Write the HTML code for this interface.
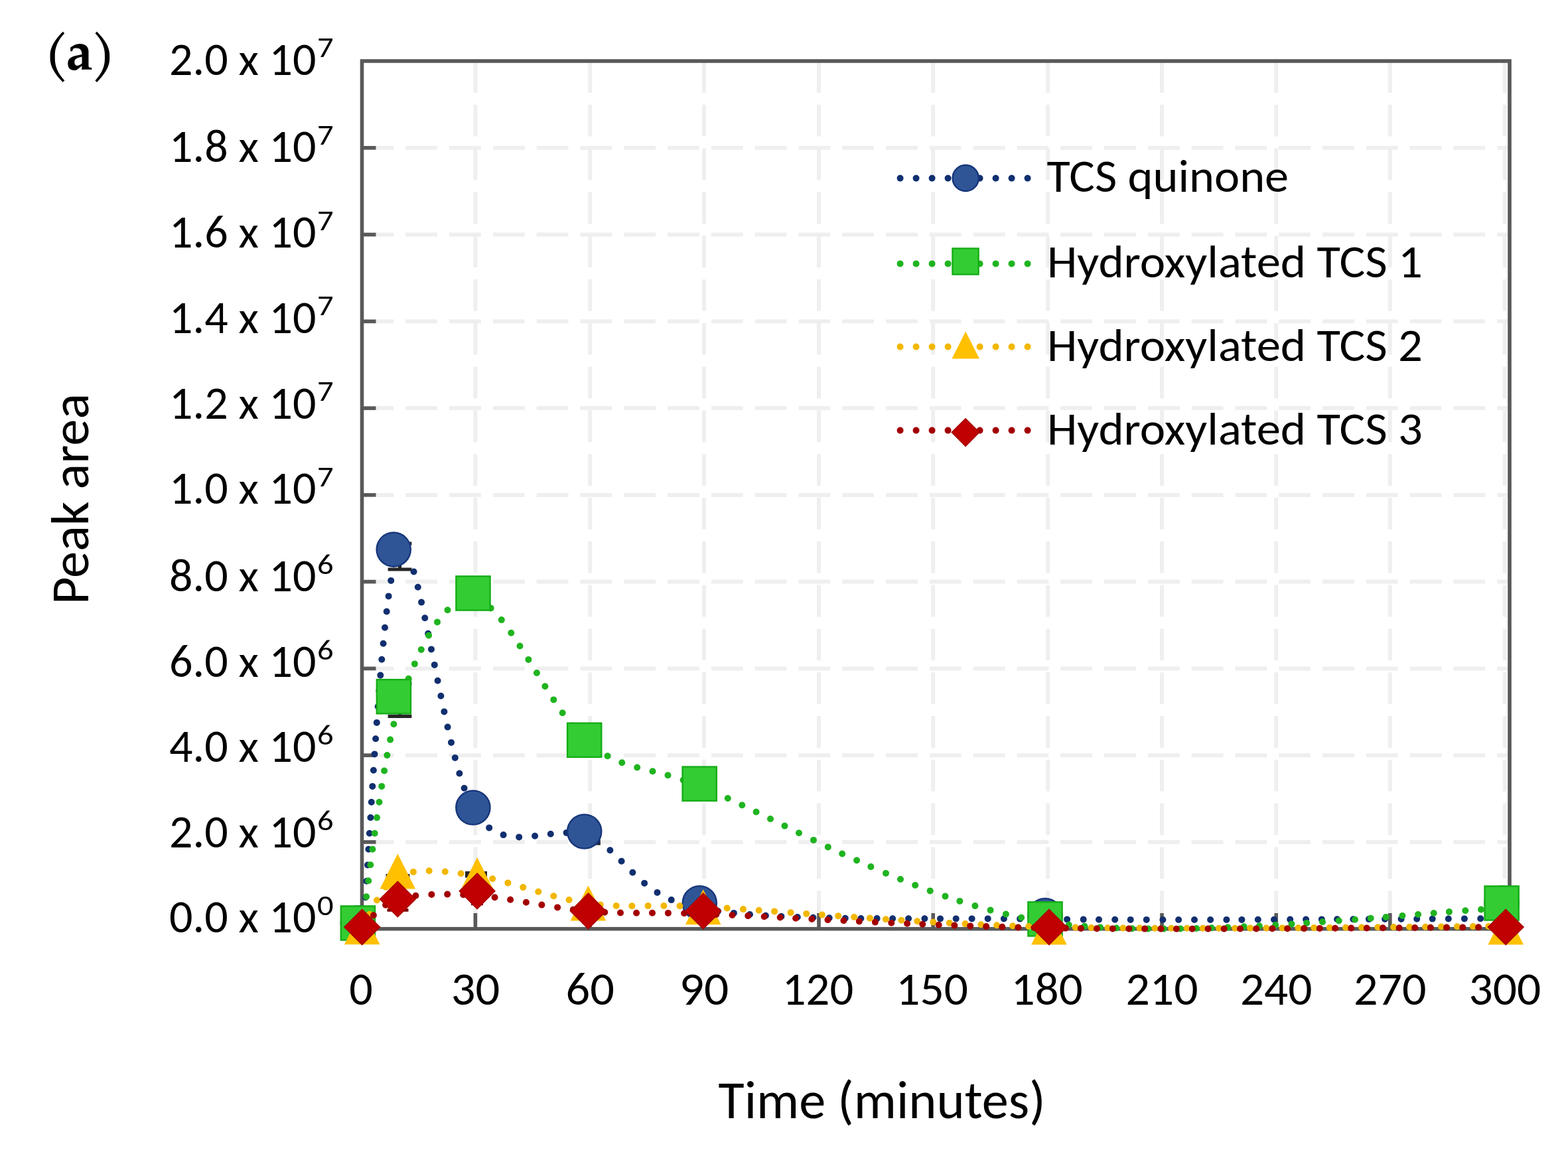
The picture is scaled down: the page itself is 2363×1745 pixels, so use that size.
<!DOCTYPE html><html><head><meta charset="utf-8"><title>Peak area vs time</title><style>html,body{margin:0;padding:0;background:#fff;overflow:hidden}svg{display:block}.t{font-family:Carlito,Calibri,"Liberation Sans",sans-serif;fill:#000}.s{font-family:"TeX Gyre Pagella","Palatino Linotype","Book Antiqua",Palatino,"Liberation Serif",serif;font-weight:bold;fill:#000}</style></head><body>
<svg width="2363" height="1745" viewBox="0 0 2363 1745">
<rect width="2363" height="1745" fill="#fff"/>
<g stroke="#efefef" fill="none">
<line x1="545.5" y1="1268.9" x2="2272.0" y2="1268.9" stroke-width="6" stroke-dasharray="47.8 18"/>
<line x1="545.5" y1="1138.2" x2="2272.0" y2="1138.2" stroke-width="6" stroke-dasharray="47.8 18"/>
<line x1="545.5" y1="1007.4" x2="2272.0" y2="1007.4" stroke-width="6" stroke-dasharray="47.8 18"/>
<line x1="545.5" y1="876.6" x2="2272.0" y2="876.6" stroke-width="6" stroke-dasharray="47.8 18"/>
<line x1="545.5" y1="745.9" x2="2272.0" y2="745.9" stroke-width="6" stroke-dasharray="47.8 18"/>
<line x1="545.5" y1="615.1" x2="2272.0" y2="615.1" stroke-width="6" stroke-dasharray="47.8 18"/>
<line x1="545.5" y1="484.3" x2="2272.0" y2="484.3" stroke-width="6" stroke-dasharray="47.8 18"/>
<line x1="545.5" y1="353.5" x2="2272.0" y2="353.5" stroke-width="6" stroke-dasharray="47.8 18"/>
<line x1="545.5" y1="222.8" x2="2272.0" y2="222.8" stroke-width="6" stroke-dasharray="47.8 18"/>
<line x1="716.4" y1="92.0" x2="716.4" y2="1396.7" stroke-width="6" stroke-dasharray="47.8 18"/>
<line x1="889.2" y1="92.0" x2="889.2" y2="1396.7" stroke-width="6" stroke-dasharray="47.8 18"/>
<line x1="1061.0" y1="92.0" x2="1061.0" y2="1396.7" stroke-width="6" stroke-dasharray="47.8 18"/>
<line x1="1234.0" y1="92.0" x2="1234.0" y2="1396.7" stroke-width="6" stroke-dasharray="47.8 18"/>
<line x1="1406.2" y1="92.0" x2="1406.2" y2="1396.7" stroke-width="6" stroke-dasharray="47.8 18"/>
<line x1="1579.2" y1="92.0" x2="1579.2" y2="1396.7" stroke-width="6" stroke-dasharray="47.8 18"/>
<line x1="1751.0" y1="92.0" x2="1751.0" y2="1396.7" stroke-width="6" stroke-dasharray="47.8 18"/>
<line x1="1923.2" y1="92.0" x2="1923.2" y2="1396.7" stroke-width="6" stroke-dasharray="47.8 18"/>
<line x1="2094.8" y1="92.0" x2="2094.8" y2="1396.7" stroke-width="6" stroke-dasharray="47.8 18"/>
<line x1="2267.7" y1="92.0" x2="2267.7" y2="1396.7" stroke-width="6" stroke-dasharray="47.8 18"/>
</g>
<g stroke="#595959" stroke-width="5.6" fill="none">
<rect x="545.5" y="92.0" width="1729.5" height="1307.7"/>
<line x1="545.5" y1="1268.9" x2="566.5" y2="1268.9"/>
<line x1="545.5" y1="1138.2" x2="566.5" y2="1138.2"/>
<line x1="545.5" y1="1007.4" x2="566.5" y2="1007.4"/>
<line x1="545.5" y1="876.6" x2="566.5" y2="876.6"/>
<line x1="545.5" y1="745.9" x2="566.5" y2="745.9"/>
<line x1="545.5" y1="615.1" x2="566.5" y2="615.1"/>
<line x1="545.5" y1="484.3" x2="566.5" y2="484.3"/>
<line x1="545.5" y1="353.5" x2="566.5" y2="353.5"/>
<line x1="545.5" y1="222.8" x2="566.5" y2="222.8"/>
<line x1="716.4" y1="1376" x2="716.4" y2="1399.7"/>
<line x1="889.2" y1="1376" x2="889.2" y2="1399.7"/>
<line x1="1061.0" y1="1376" x2="1061.0" y2="1399.7"/>
<line x1="1234.0" y1="1376" x2="1234.0" y2="1399.7"/>
<line x1="1406.2" y1="1376" x2="1406.2" y2="1399.7"/>
<line x1="1579.2" y1="1376" x2="1579.2" y2="1399.7"/>
<line x1="1751.0" y1="1376" x2="1751.0" y2="1399.7"/>
<line x1="1923.2" y1="1376" x2="1923.2" y2="1399.7"/>
<line x1="2094.8" y1="1376" x2="2094.8" y2="1399.7"/>
</g>
<g stroke="#262626" stroke-width="5.2" fill="none"><line x1="602.5" y1="819" x2="602.5" y2="858"/><line x1="584.6" y1="819" x2="620.4" y2="819"/><line x1="584.6" y1="858" x2="620.4" y2="858"/><line x1="887" y1="1250" x2="887" y2="1271"/><line x1="869.1" y1="1250" x2="904.9" y2="1250"/><line x1="869.1" y1="1271" x2="904.9" y2="1271"/><line x1="602.5" y1="1030" x2="602.5" y2="1079.3"/><line x1="584.6" y1="1030" x2="620.4" y2="1030"/><line x1="584.6" y1="1079.3" x2="620.4" y2="1079.3"/><line x1="599.5" y1="1319.5" x2="599.5" y2="1332"/><line x1="581.6" y1="1319.5" x2="617.4" y2="1319.5"/><line x1="581.6" y1="1332" x2="617.4" y2="1332"/><line x1="717.5" y1="1320" x2="717.5" y2="1315.5"/><line x1="701.0" y1="1320" x2="734.0" y2="1320"/><line x1="701.0" y1="1315.5" x2="734.0" y2="1315.5"/></g>
<g stroke="#7a0000" stroke-width="4.5" fill="none"><line x1="599.5" y1="1336" x2="599.5" y2="1371.5"/><line x1="583.5" y1="1336" x2="615.5" y2="1336"/><line x1="583.5" y1="1371.5" x2="615.5" y2="1371.5"/><line x1="719" y1="1330" x2="719" y2="1362"/><line x1="710.0" y1="1330" x2="728.0" y2="1330"/><line x1="710.0" y1="1362" x2="728.0" y2="1362"/></g>
<path d="M547.3,1400.0h0.01M549.2,1375.9h0.01M550.9,1352.3h0.01M552.5,1327.7h0.01M554.0,1303.5h0.01M555.4,1279.7h0.01M556.9,1255.7h0.01M558.4,1232.0h0.01M559.8,1208.7h0.01M561.3,1184.9h0.01M562.9,1160.8h0.01M564.5,1136.4h0.01M566.1,1113.3h0.01M567.8,1088.9h0.01M569.6,1064.7h0.01M571.4,1040.9h0.01M573.3,1017.6h0.01M575.3,993.8h0.01M577.6,969.7h0.01M580.0,945.8h0.01M582.7,921.5h0.01M585.6,898.4h0.01M589.2,874.9h0.01M623.6,861.5h0.01M629.8,884.8h0.01M635.1,907.6h0.01M640.3,931.2h0.01M645.2,954.7h0.01M650.0,978.4h0.01M654.8,1001.9h0.01M659.6,1025.7h0.01M664.4,1048.7h0.01M669.4,1072.4h0.01M674.6,1095.6h0.01M680.0,1118.9h0.01M685.8,1141.9h0.01M692.4,1165.5h0.01M699.6,1187.8h0.01M708.3,1209.8h0.01M720.5,1230.3h0.01M737.2,1247.4h0.01M758.6,1258.1h0.01M782.2,1261.4h0.01M806.1,1259.8h0.01M829.8,1256.7h0.01M853.6,1254.9h0.01M877.5,1257.5h0.01M899.9,1267.1h0.01M919.4,1281.3h0.01M936.6,1297.7h0.01M953.4,1314.8h0.01M971.1,1330.9h0.01M990.5,1344.9h0.01M1011.7,1356.1h0.01M1034.2,1364.1h0.01M1058.2,1369.5h0.01M1082.0,1373.1h0.01M1105.9,1375.9h0.01M1130.0,1378.0h0.01M1153.9,1379.7h0.01M1177.4,1380.9h0.01M1201.8,1382.0h0.01M1225.4,1382.7h0.01M1249.7,1383.3h0.01M1273.8,1383.7h0.01M1297.4,1384.0h0.01M1321.6,1384.1h0.01M1345.2,1384.3h0.01M1369.1,1384.3h0.01M1393.4,1384.3h0.01M1417.0,1384.4h0.01M1440.7,1384.4h0.01M1464.6,1384.4h0.01M1488.7,1384.4h0.01M1512.9,1384.5h0.01M1537.1,1384.6h0.01M1561.4,1384.9h0.01M1584.7,1385.1h0.01M1608.1,1385.4h0.01M1632.7,1385.6h0.01M1656.0,1385.7h0.01M1680.2,1385.8h0.01M1703.7,1385.9h0.01M1727.8,1385.9h0.01M1752.4,1386.0h0.01M1776.1,1386.0h0.01M1800.0,1386.0h0.01M1824.1,1386.0h0.01M1848.4,1385.9h0.01M1871.4,1385.9h0.01M1895.8,1385.8h0.01M1920.0,1385.7h0.01M1944.2,1385.6h0.01M1968.1,1385.5h0.01M1991.8,1385.4h0.01M2015.1,1385.3h0.01M2039.3,1385.2h0.01M2062.9,1385.1h0.01M2087.1,1385.0h0.01M2111.6,1384.9h0.01M2135.2,1384.7h0.01M2158.7,1384.6h0.01M2182.8,1384.5h0.01M2206.9,1384.4h0.01M2231.2,1384.3h0.01M2255.0,1384.2h0.01" fill="none" stroke="#112f6f" stroke-width="10" stroke-linecap="round"/>
<circle cx="539.4" cy="1391.0" r="25.6" fill="#2f5597" stroke="#17367a" stroke-width="2.4"/>
<circle cx="593.2" cy="828.1" r="25.6" fill="#2f5597" stroke="#17367a" stroke-width="2.4"/>
<circle cx="712.9" cy="1217.0" r="25.6" fill="#2f5597" stroke="#17367a" stroke-width="2.4"/>
<circle cx="880.7" cy="1253.0" r="25.6" fill="#2f5597" stroke="#17367a" stroke-width="2.4"/>
<circle cx="1054.3" cy="1360.7" r="25.6" fill="#2f5597" stroke="#17367a" stroke-width="2.4"/>
<circle cx="1575.0" cy="1379.5" r="25.6" fill="#2f5597" stroke="#17367a" stroke-width="2.4"/>
<circle cx="2263.1" cy="1361.0" r="25.6" fill="#2f5597" stroke="#17367a" stroke-width="2.4"/>
<path d="M548.9,1374.7h0.01M552.1,1351.3h0.01M555.2,1327.3h0.01M558.3,1303.3h0.01M561.4,1279.7h0.01M564.7,1255.8h0.01M568.0,1232.1h0.01M571.5,1208.8h0.01M575.2,1184.9h0.01M579.1,1161.5h0.01M583.4,1138.1h0.01M588.1,1114.6h0.01M593.4,1091.2h0.01M599.7,1067.8h0.01M607.3,1045.2h0.01M615.7,1022.8h0.01M624.9,1000.4h0.01M634.8,978.9h0.01M646.1,957.5h0.01M659.0,937.4h0.01M674.5,919.3h0.01M694.2,905.8h0.01M717.6,903.2h0.01M719.7,903.7h0.01M739.7,916.4h0.01M755.8,934.1h0.01M770.3,953.7h0.01M783.5,973.5h0.01M796.4,993.9h0.01M808.9,1014.0h0.01M821.4,1034.2h0.01M834.3,1054.4h0.01M847.7,1074.3h0.01M862.2,1093.6h0.01M878.2,1111.5h0.01M895.5,1126.1h0.01M915.6,1139.2h0.01M937.3,1149.3h0.01M960.2,1156.5h0.01M983.5,1162.3h0.01M1006.5,1168.3h0.01M1029.6,1175.5h0.01M1052.0,1183.7h0.01M1074.6,1193.0h0.01M1096.8,1203.0h0.01M1118.3,1213.2h0.01M1139.6,1223.5h0.01M1161.0,1234.0h0.01M1182.5,1244.6h0.01M1204.0,1255.2h0.01M1226.0,1265.9h0.01M1247.8,1276.4h0.01M1269.2,1286.5h0.01M1291.1,1296.5h0.01M1312.4,1306.1h0.01M1335.0,1315.9h0.01M1357.0,1325.0h0.01M1379.2,1333.9h0.01M1401.7,1342.4h0.01M1424.5,1350.6h0.01M1446.4,1357.9h0.01M1469.4,1365.1h0.01M1492.6,1371.6h0.01M1515.9,1377.6h0.01M1539.2,1382.8h0.01M1562.5,1387.2h0.01M1587.1,1391.0h0.01M1610.8,1393.7h0.01M1634.5,1395.8h0.01M1658.0,1397.4h0.01M1682.3,1398.5h0.01M1706.0,1399.2h0.01M1730.3,1399.5h0.01M1753.7,1399.6h0.01M1778.8,1399.4h0.01M1802.9,1398.9h0.01M1825.8,1398.3h0.01M1850.2,1397.4h0.01M1874.7,1396.3h0.01M1897.8,1395.2h0.01M1922.2,1393.9h0.01M1946.5,1392.4h0.01M1969.2,1390.9h0.01M1993.0,1389.3h0.01M2017.7,1387.5h0.01M2042.0,1385.7h0.01M2065.7,1383.8h0.01M2088.7,1381.9h0.01M2113.4,1379.9h0.01M2137.1,1378.0h0.01M2160.7,1376.0h0.01M2183.9,1374.1h0.01M2208.3,1372.3h0.01M2232.0,1370.6h0.01M2256.2,1369.2h0.01" fill="none" stroke="#20b420" stroke-width="10" stroke-linecap="round"/>
<rect x="513.8" y="1365.4" width="51.2" height="51.2" fill="#33cc33" stroke="#16ad16" stroke-width="2.4"/>
<rect x="567.8" y="1024.1" width="51.2" height="51.2" fill="#33cc33" stroke="#16ad16" stroke-width="2.4"/>
<rect x="687.4" y="868.4" width="51.2" height="51.2" fill="#33cc33" stroke="#16ad16" stroke-width="2.4"/>
<rect x="855.1" y="1089.7" width="51.2" height="51.2" fill="#33cc33" stroke="#16ad16" stroke-width="2.4"/>
<rect x="1028.6" y="1155.5" width="51.2" height="51.2" fill="#33cc33" stroke="#16ad16" stroke-width="2.4"/>
<rect x="1549.4" y="1359.3" width="51.2" height="51.2" fill="#33cc33" stroke="#16ad16" stroke-width="2.4"/>
<rect x="2237.5" y="1335.4" width="51.2" height="51.2" fill="#33cc33" stroke="#16ad16" stroke-width="2.4"/>
<path d="M546.3,1399.2h0.01M557.0,1377.7h0.01M568.0,1356.5h0.01M581.4,1336.7h0.01M599.4,1321.2h0.01M622.9,1313.9h0.01M646.7,1312.2h0.01M670.8,1313.5h0.01M694.6,1316.2h0.01M718.6,1319.6h0.01M742.2,1324.3h0.01M765.4,1330.4h0.01M788.3,1337.1h0.01M811.3,1343.8h0.01M834.3,1350.3h0.01M857.6,1356.0h0.01M881.1,1360.5h0.01M904.7,1363.4h0.01M928.7,1365.0h0.01M952.4,1365.3h0.01M976.6,1365.1h0.01M1000.4,1365.0h0.01M1024.5,1365.2h0.01M1048.2,1366.0h0.01M1071.8,1367.1h0.01M1095.7,1368.5h0.01M1120.0,1370.1h0.01M1143.7,1371.8h0.01M1167.1,1373.4h0.01M1191.6,1375.2h0.01M1215.3,1376.9h0.01M1238.9,1378.6h0.01M1263.2,1380.3h0.01M1287.2,1382.0h0.01M1310.9,1383.6h0.01M1334.9,1385.2h0.01M1358.4,1386.7h0.01M1382.3,1388.2h0.01M1406.4,1389.6h0.01M1430.8,1390.9h0.01M1454.5,1392.1h0.01M1478.3,1393.2h0.01M1502.2,1394.3h0.01M1526.2,1395.2h0.01M1550.3,1396.0h0.01M1574.5,1396.7h0.01M1597.0,1397.2h0.01M1620.8,1397.6h0.01M1644.6,1398.0h0.01M1669.4,1398.3h0.01M1692.5,1398.4h0.01M1717.5,1398.6h0.01M1740.5,1398.7h0.01M1765.1,1398.8h0.01M1788.8,1398.8h0.01M1812.8,1398.8h0.01M1836.9,1398.7h0.01M1861.2,1398.7h0.01M1884.1,1398.6h0.01M1908.4,1398.5h0.01M1932.5,1398.4h0.01M1956.5,1398.2h0.01M1980.3,1398.1h0.01M2003.8,1397.9h0.01M2028.1,1397.7h0.01M2052.0,1397.5h0.01M2076.4,1397.3h0.01M2100.2,1397.1h0.01M2124.2,1396.9h0.01M2148.2,1396.7h0.01M2172.0,1396.5h0.01M2196.1,1396.3h0.01M2219.9,1396.1h0.01M2243.4,1396.0h0.01M2267.5,1395.9h0.01" fill="none" stroke="#f2b700" stroke-width="10" stroke-linecap="round"/>
<path d="M545.7,1370.3 L572.5,1423.3 L518.9,1423.3 Z" fill="#ffc000"/>
<path d="M599.3,1286.5 L626.1,1339.5 L572.5,1339.5 Z" fill="#ffc000"/>
<path d="M719.1,1292.1 L745.9,1345.1 L692.3,1345.1 Z" fill="#ffc000"/>
<path d="M886.5,1334.4 L913.3,1387.4 L859.7,1387.4 Z" fill="#ffc000"/>
<path d="M1059.7,1340.2 L1086.5,1393.2 L1032.9,1393.2 Z" fill="#ffc000"/>
<path d="M1580.9,1370.5 L1607.7,1423.5 L1554.1,1423.5 Z" fill="#ffc000"/>
<path d="M2269.2,1370.5 L2296.0,1423.5 L2242.4,1423.5 Z" fill="#ffc000"/>
<path d="M546.7,1396.9h0.01M562.9,1379.2h0.01M581.1,1363.7h0.01M602.8,1354.1h0.01M626.4,1349.8h0.01M650.4,1347.9h0.01M674.2,1347.6h0.01M698.2,1348.3h0.01M721.6,1349.7h0.01M745.6,1352.2h0.01M769.1,1355.7h0.01M792.9,1359.7h0.01M816.4,1363.6h0.01M840.1,1367.4h0.01M863.8,1370.7h0.01M887.2,1373.2h0.01M911.3,1374.7h0.01M935.0,1375.5h0.01M959.1,1375.7h0.01M983.0,1375.7h0.01M1006.9,1375.9h0.01M1031.1,1376.3h0.01M1054.8,1377.0h0.01M1079.4,1377.9h0.01M1103.5,1379.0h0.01M1127.3,1380.1h0.01M1151.7,1381.3h0.01M1175.7,1382.5h0.01M1199.1,1383.7h0.01M1223.4,1384.9h0.01M1247.5,1386.1h0.01M1271.4,1387.3h0.01M1294.9,1388.4h0.01M1318.9,1389.6h0.01M1343.3,1390.7h0.01M1367.1,1391.7h0.01M1390.3,1392.7h0.01M1414.7,1393.7h0.01M1438.4,1394.6h0.01M1462.2,1395.4h0.01M1486.2,1396.1h0.01M1510.3,1396.8h0.01M1534.4,1397.5h0.01M1558.6,1398.0h0.01M1605.8,1398.8h0.01M1628.9,1399.0h0.01M1653.0,1399.2h0.01M1676.8,1399.4h0.01M1701.3,1399.5h0.01M1725.1,1399.6h0.01M1749.5,1399.6h0.01M1772.9,1399.7h0.01M1796.7,1399.7h0.01M1820.6,1399.6h0.01M1844.7,1399.6h0.01M1869.0,1399.5h0.01M1893.2,1399.4h0.01M1917.3,1399.3h0.01M1940.1,1399.2h0.01M1965.2,1399.1h0.01M1988.8,1398.9h0.01M2012.1,1398.8h0.01M2036.2,1398.6h0.01M2059.8,1398.5h0.01M2084.0,1398.3h0.01M2108.6,1398.2h0.01M2132.2,1398.0h0.01M2155.8,1397.8h0.01M2180.0,1397.6h0.01M2204.3,1397.5h0.01M2228.1,1397.3h0.01M2251.7,1397.2h0.01" fill="none" stroke="#a30000" stroke-width="10" stroke-linecap="round"/>
<path d="M545.7,1370.2 L572.5,1397.0 L545.7,1423.8 L518.9,1397.0 Z" fill="#c00000" stroke="#a80000" stroke-width="1.5" stroke-linejoin="miter"/>
<path d="M599.3,1328.2 L626.1,1355.0 L599.3,1381.8 L572.5,1355.0 Z" fill="#c00000" stroke="#a80000" stroke-width="1.5" stroke-linejoin="miter"/>
<path d="M719.1,1316.0 L745.9,1342.8 L719.1,1369.6 L692.3,1342.8 Z" fill="#c00000" stroke="#a80000" stroke-width="1.5" stroke-linejoin="miter"/>
<path d="M886.5,1346.1 L913.3,1372.9 L886.5,1399.7 L859.7,1372.9 Z" fill="#c00000" stroke="#a80000" stroke-width="1.5" stroke-linejoin="miter"/>
<path d="M1059.7,1346.1 L1086.5,1372.9 L1059.7,1399.7 L1032.9,1372.9 Z" fill="#c00000" stroke="#a80000" stroke-width="1.5" stroke-linejoin="miter"/>
<path d="M1581.0,1370.2 L1607.8,1397.0 L1581.0,1423.8 L1554.2,1397.0 Z" fill="#c00000" stroke="#a80000" stroke-width="1.5" stroke-linejoin="miter"/>
<path d="M2269.2,1370.2 L2296.0,1397.0 L2269.2,1423.8 L2242.4,1397.0 Z" fill="#c00000" stroke="#a80000" stroke-width="1.5" stroke-linejoin="miter"/>
<path d="M1356.6,268.6 L1550,268.6" stroke="#112f6f" stroke-width="10" stroke-linecap="round" stroke-dasharray="0 24"/>
<circle cx="1455.2" cy="268.4" r="19.6" fill="#2f5597" stroke="#17367a" stroke-width="2.4"/>
<text class="t" x="1577.6" y="289.2" font-size="70" textLength="364.5" lengthAdjust="spacingAndGlyphs">TCS quinone</text>
<path d="M1356.6,397.4 L1550,397.4" stroke="#20b420" stroke-width="10" stroke-linecap="round" stroke-dasharray="0 24"/>
<rect x="1435.5" y="374.4" width="39.1" height="39.1" fill="#33cc33" stroke="#16ad16" stroke-width="2.4"/>
<text class="t" x="1578" y="418.2" font-size="70" textLength="566.0" lengthAdjust="spacingAndGlyphs">Hydroxylated TCS 1</text>
<path d="M1356.6,522.6 L1550,522.6" stroke="#f2b700" stroke-width="10" stroke-linecap="round" stroke-dasharray="0 24"/>
<path d="M1455.2,499.5 L1476.0,540.5 L1434.5,540.5 Z" fill="#ffc000"/>
<text class="t" x="1578" y="544.0" font-size="70" textLength="566.0" lengthAdjust="spacingAndGlyphs">Hydroxylated TCS 2</text>
<path d="M1356.6,648.6 L1550,648.6" stroke="#a30000" stroke-width="10" stroke-linecap="round" stroke-dasharray="0 24"/>
<path d="M1455.1,630.9 L1475.8,651.6 L1455.1,672.4 L1434.3,651.6 Z" fill="#c00000" stroke="#a80000" stroke-width="1.5" stroke-linejoin="miter"/>
<text class="t" x="1578" y="669.6" font-size="70" textLength="566.0" lengthAdjust="spacingAndGlyphs">Hydroxylated TCS 3</text>
<text class="t" x="255" y="112.6" font-size="70" textLength="221.6" lengthAdjust="spacingAndGlyphs">2.0 x 10</text>
<text class="t" transform="translate(478,86.3) scale(1.13,1)" font-size="43" textLength="21.8" lengthAdjust="spacingAndGlyphs">7</text>
<text class="t" x="255" y="244.4" font-size="70" textLength="221.6" lengthAdjust="spacingAndGlyphs">1.8 x 10</text>
<text class="t" transform="translate(478,218.1) scale(1.13,1)" font-size="43" textLength="21.8" lengthAdjust="spacingAndGlyphs">7</text>
<text class="t" x="255" y="373.1" font-size="70" textLength="221.6" lengthAdjust="spacingAndGlyphs">1.6 x 10</text>
<text class="t" transform="translate(478,346.8) scale(1.13,1)" font-size="43" textLength="21.8" lengthAdjust="spacingAndGlyphs">7</text>
<text class="t" x="255" y="501.5" font-size="70" textLength="221.6" lengthAdjust="spacingAndGlyphs">1.4 x 10</text>
<text class="t" transform="translate(478,475.2) scale(1.13,1)" font-size="43" textLength="21.8" lengthAdjust="spacingAndGlyphs">7</text>
<text class="t" x="255" y="630.6" font-size="70" textLength="221.6" lengthAdjust="spacingAndGlyphs">1.2 x 10</text>
<text class="t" transform="translate(478,604.3) scale(1.13,1)" font-size="43" textLength="21.8" lengthAdjust="spacingAndGlyphs">7</text>
<text class="t" x="255" y="759.3" font-size="70" textLength="221.6" lengthAdjust="spacingAndGlyphs">1.0 x 10</text>
<text class="t" transform="translate(478,733.0) scale(1.13,1)" font-size="43" textLength="21.8" lengthAdjust="spacingAndGlyphs">7</text>
<text class="t" x="255" y="891.0" font-size="70" textLength="221.6" lengthAdjust="spacingAndGlyphs">8.0 x 10</text>
<text class="t" transform="translate(478,864.7) scale(1.13,1)" font-size="43" textLength="21.8" lengthAdjust="spacingAndGlyphs">6</text>
<text class="t" x="255" y="1019.9" font-size="70" textLength="221.6" lengthAdjust="spacingAndGlyphs">6.0 x 10</text>
<text class="t" transform="translate(478,993.6) scale(1.13,1)" font-size="43" textLength="21.8" lengthAdjust="spacingAndGlyphs">6</text>
<text class="t" x="255" y="1148.3" font-size="70" textLength="221.6" lengthAdjust="spacingAndGlyphs">4.0 x 10</text>
<text class="t" transform="translate(478,1122.0) scale(1.13,1)" font-size="43" textLength="21.8" lengthAdjust="spacingAndGlyphs">6</text>
<text class="t" x="255" y="1277.3" font-size="70" textLength="221.6" lengthAdjust="spacingAndGlyphs">2.0 x 10</text>
<text class="t" transform="translate(478,1251.0) scale(1.13,1)" font-size="43" textLength="21.8" lengthAdjust="spacingAndGlyphs">6</text>
<text class="t" x="255" y="1405.4" font-size="70" textLength="221.6" lengthAdjust="spacingAndGlyphs">0.0 x 10</text>
<text class="t" transform="translate(478,1379.1) scale(1.13,1)" font-size="43" textLength="21.8" lengthAdjust="spacingAndGlyphs">0</text>
<text class="t" x="544.0" y="1514" font-size="70" text-anchor="middle" textLength="35.5" lengthAdjust="spacingAndGlyphs">0</text>
<text class="t" x="716.4" y="1514" font-size="70" text-anchor="middle" textLength="73.5" lengthAdjust="spacingAndGlyphs">30</text>
<text class="t" x="889.2" y="1514" font-size="70" text-anchor="middle" textLength="73.4" lengthAdjust="spacingAndGlyphs">60</text>
<text class="t" x="1061.0" y="1514" font-size="70" text-anchor="middle" textLength="74.5" lengthAdjust="spacingAndGlyphs">90</text>
<text class="t" x="1232.5" y="1514" font-size="70" text-anchor="middle" textLength="107.4" lengthAdjust="spacingAndGlyphs">120</text>
<text class="t" x="1404.7" y="1514" font-size="70" text-anchor="middle" textLength="108.7" lengthAdjust="spacingAndGlyphs">150</text>
<text class="t" x="1577.7" y="1514" font-size="70" text-anchor="middle" textLength="107.7" lengthAdjust="spacingAndGlyphs">180</text>
<text class="t" x="1751.0" y="1514" font-size="70" text-anchor="middle" textLength="109.1" lengthAdjust="spacingAndGlyphs">210</text>
<text class="t" x="1923.2" y="1514" font-size="70" text-anchor="middle" textLength="108.6" lengthAdjust="spacingAndGlyphs">240</text>
<text class="t" x="2094.8" y="1514" font-size="70" text-anchor="middle" textLength="109.6" lengthAdjust="spacingAndGlyphs">270</text>
<text class="t" x="2267.8" y="1514" font-size="70" text-anchor="middle" textLength="108.6" lengthAdjust="spacingAndGlyphs">300</text>
<text class="t" x="1082.5" y="1685" font-size="80" textLength="493" lengthAdjust="spacingAndGlyphs">Time (minutes)</text>
<text class="t" transform="translate(132.5,911) rotate(-90)" x="0" y="0" font-size="80" textLength="318" lengthAdjust="spacingAndGlyphs">Peak area</text>
<text class="s" x="66" y="104.5" font-size="77">(</text><text class="s" x="99" y="105" font-size="82">a</text><text class="s" x="137" y="104.5" font-size="77">)</text>
</svg></body></html>
